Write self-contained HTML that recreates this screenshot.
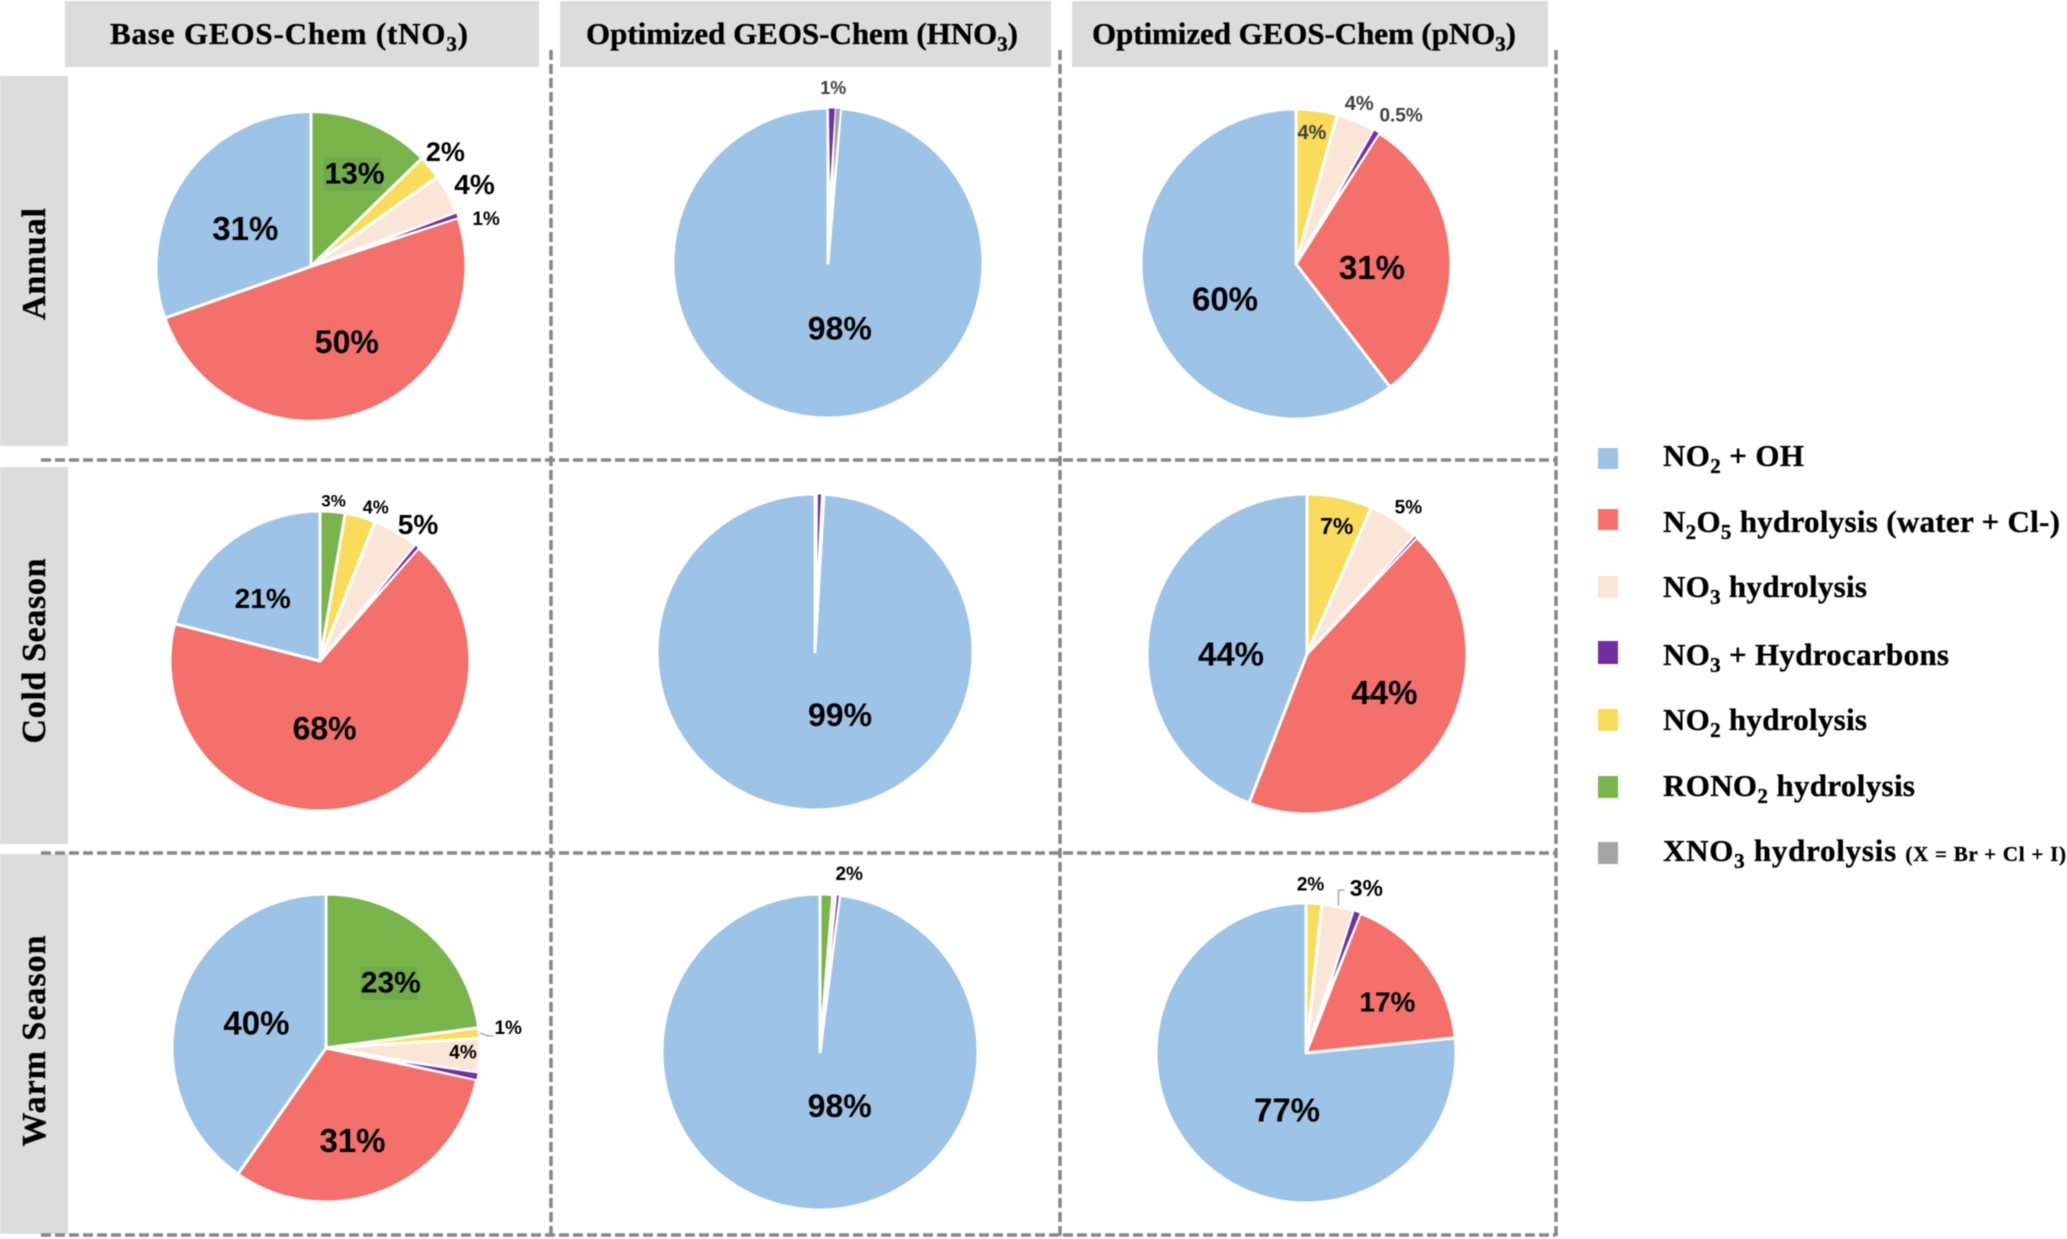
<!DOCTYPE html>
<html lang="en">
<head>
<meta charset="utf-8">
<title>Nitrate formation pathways pie charts</title>
<style>
html,body{margin:0;padding:0;background:#fff;}
#root{position:relative;width:2067px;height:1239px;overflow:hidden;filter:blur(0.55px);}
svg{display:block;}
.hdr{font-family:"Liberation Serif",serif;font-weight:bold;font-size:31px;fill:#000;stroke:#000;stroke-width:.35px;}
.leg{font-family:"Liberation Serif",serif;font-weight:bold;font-size:31px;fill:#000;stroke:#000;stroke-width:.35px;}
.pct{font-family:"Liberation Sans",sans-serif;font-weight:bold;}
</style>
</head>
<body>
<div id="root">
<svg id="chart" width="2067" height="1239" viewBox="0 0 2067 1239" xmlns="http://www.w3.org/2000/svg">
  <g>
    <rect x="65" y="1" width="474" height="66" fill="#dcdcdc"/>
    <rect x="560" y="1" width="491" height="66" fill="#dcdcdc"/>
    <rect x="1072" y="1" width="476" height="66" fill="#dcdcdc"/>
    <text class="hdr" x="110" y="44" textLength="358">Base GEOS-Chem (tNO<tspan dy="7" font-size="21">3</tspan><tspan dy="-7">)</tspan></text>
    <text class="hdr" x="586" y="44" textLength="432">Optimized GEOS-Chem (HNO<tspan dy="7" font-size="21">3</tspan><tspan dy="-7">)</tspan></text>
    <text class="hdr" x="1092" y="44" textLength="424">Optimized GEOS-Chem (pNO<tspan dy="7" font-size="21">3</tspan><tspan dy="-7">)</tspan></text>
  </g>
  <g>
    <rect x="0" y="76" width="68" height="370" fill="#dcdcdc"/>
    <rect x="0" y="467" width="68" height="377" fill="#dcdcdc"/>
    <rect x="0" y="854" width="68" height="380" fill="#dcdcdc"/>
    <text class="hdr" style="font-size:34px" text-anchor="middle" textLength="112" transform="translate(45 264) rotate(-90)">Annual</text>
    <text class="hdr" style="font-size:34px" text-anchor="middle" textLength="185" transform="translate(45 651) rotate(-90)">Cold Season</text>
    <text class="hdr" style="font-size:34px" text-anchor="middle" textLength="211" transform="translate(45 1041) rotate(-90)">Warm Season</text>
  </g>
  <g stroke="#888888" stroke-width="3.5" stroke-dasharray="10 4" fill="none">
    <line x1="551" y1="50" x2="551" y2="1236"/>
    <line x1="1060" y1="50" x2="1060" y2="1236"/>
    <line x1="1556" y1="50" x2="1556" y2="1236"/>
    <line x1="41" y1="460" x2="1556" y2="460"/>
    <line x1="41" y1="853" x2="1556" y2="853"/>
    <line x1="41" y1="1235" x2="1556" y2="1235"/>
  </g>
  <g id="pies"></g>
  <g>
    <g>
      <rect x="1598" y="448" width="20" height="21" fill="#9dc3e6"/>
      <text class="leg" x="1663" y="466" textLength="141">NO<tspan dy="7" font-size="21">2</tspan><tspan dy="-7"> + OH</tspan></text>
    </g>
    <g>
      <rect x="1598" y="509" width="20" height="21" fill="#f3706b"/>
      <text class="leg" x="1663" y="532" textLength="397">N<tspan dy="7" font-size="21">2</tspan><tspan dy="-7">O</tspan><tspan dy="7" font-size="21">5</tspan><tspan dy="-7"> hydrolysis (water + Cl-)</tspan></text>
    </g>
    <g>
      <rect x="1598" y="576" width="20" height="22" fill="#fbe5d6"/>
      <text class="leg" x="1663" y="597" textLength="204">NO<tspan dy="7" font-size="21">3</tspan><tspan dy="-7"> hydrolysis</tspan></text>
    </g>
    <g>
      <rect x="1598" y="641" width="20" height="23" fill="#7030a0"/>
      <text class="leg" x="1663" y="665" textLength="286">NO<tspan dy="7" font-size="21">3</tspan><tspan dy="-7"> + Hydrocarbons</tspan></text>
    </g>
    <g>
      <rect x="1598" y="709" width="20" height="22" fill="#f9dc5c"/>
      <text class="leg" x="1663" y="730" textLength="204">NO<tspan dy="7" font-size="21">2</tspan><tspan dy="-7"> hydrolysis</tspan></text>
    </g>
    <g>
      <rect x="1598" y="776" width="20" height="22" fill="#7ab54c"/>
      <text class="leg" x="1663" y="796" textLength="252">RONO<tspan dy="7" font-size="21">2</tspan><tspan dy="-7"> hydrolysis</tspan></text>
    </g>
    <g>
      <rect x="1598" y="842" width="20" height="22" fill="#a5a5a5"/>
      <text class="leg" x="1663" y="861" textLength="403">XNO<tspan dy="7" font-size="21">3</tspan><tspan dy="-7"> hydrolysis </tspan><tspan font-size="21">(X = Br + Cl + I)</tspan></text>
    </g>
  </g>
</svg>
</div>
<script>
// Slice order is clockwise from 12 o'clock.
const seriesNames = ['rono2-hydrolysis', 'no2-hydrolysis', 'no3-hydrolysis', 'no3-hydrocarbons', 'xno3-hydrolysis', 'n2o5-hydrolysis', 'no2-oh'];

const annualBaseValues = [12.7, 2.5, 4.2, 0.5, 0, 49.7, 30.4];
const annualBaseLabels = ['13%', '2%', '4%', '1%', '', '50%', '31%'];
const annualHno3Values = [0, 0, 0.05, 0.7, 0.55, 0, 98.7];
const annualHno3Labels = ['', '', '', '1%', '', '', '98%'];
const annualPno3Values = [0, 4.3, 4.1, 0.6, 0, 30.6, 60.4];
const annualPno3Labels = ['', '4%', '4%', '0.5%', '', '31%', '60%'];

const coldBaseValues = [2.7, 3.3, 5, 0.4, 0, 67.6, 21];
const coldBaseLabels = ['3%', '4%', '5%', '', '', '68%', '21%'];
const coldHno3Values = [0, 0, 0.25, 0.4, 0, 0.25, 99.1];
const coldHno3Labels = ['', '', '', '', '', '', '99%'];
const coldPno3Values = [0, 6.6, 5.2, 0.2, 0, 43.9, 44.1];
const coldPno3Labels = ['', '7%', '5%', '', '', '44%', '44%'];

const warmBaseValues = [22.9, 1.1, 3.6, 0.7, 0, 31.4, 40.3];
const warmBaseLabels = ['23%', '1%', '4%', '', '', '31%', '40%'];
const warmHno3Values = [1.3, 0, 0.4, 0.25, 0, 0.05, 98];
const warmHno3Labels = ['2%', '', '', '', '', '', '98%'];
const warmPno3Values = [0, 1.7, 3.5, 0.7, 0, 17.5, 76.6];
const warmPno3Labels = ['', '2%', '3%', '', '', '17%', '77%'];

const seriesColors = ['#7ab54c', '#f9dc5c', '#fbe5d6', '#7030a0', '#a5a5a5', '#f3706b', '#9dc3e6'];
const DARK = '#000000';
const GREY = '#404040';

// Layout only: geometry of each pie and, per slot, [radius factor, angle offset from slice middle, font size, colour, extra].
const panels = [
  {name: 'annual-base', values: annualBaseValues, printed: annualBaseLabels, cx: 311, cy: 266.5, r: 155,
   place: [[.66, 2.3, 30, DARK, 'shade'], [1.14, -.7, 27, DARK], [1.18, 1.1, 28, DARK], [1.17, 4.2, 19, DARK], null, [.54, -6.4, 32, DARK], [.49, -5.2, 33, DARK]]},
  {name: 'annual-hno3', values: annualHno3Values, printed: annualHno3Labels, cx: 828, cy: 263, r: 155,
   place: [null, null, null, [1.13, .3, 18, GREY], null, null, [.43, -12.5, 32, DARK]]},
  {name: 'annual-pno3', values: annualPno3Values, printed: annualPno3Labels, cx: 1296, cy: 264, r: 155,
   place: [null, [.85, -.8, 20, GREY], [1.11, -1.3, 20, GREY], [1.17, 4.1, 19, GREY], null, [.49, 5, 33, DARK], [.51, -7.4, 33, DARK]]},
  {name: 'cold-base', values: coldBaseValues, printed: coldBaseLabels, cx: 320, cy: 661, r: 150,
   place: [[1.07, 0, 17, DARK], [1.09, 4.3, 18, DARK], [1.12, 5.1, 28, DARK], null, null, [.45, 13.4, 32, DARK], [.565, -4.7, 28, DARK]]},
  {name: 'cold-hno3', values: coldHno3Values, printed: coldHno3Labels, cx: 815, cy: 652, r: 158,
   place: [null, null, null, null, null, null, [.43, -23.2, 32, DARK]]},
  {name: 'cold-pno3', values: coldPno3Values, printed: coldPno3Labels, cx: 1307, cy: 654, r: 160,
   place: [null, [.82, 1.2, 23, DARK], [1.11, 1.7, 19, DARK], null, null, [.54, -5.8, 33, DARK], [.475, -10.6, 33, DARK]]},
  {name: 'warm-base', values: warmBaseValues, printed: warmBaseLabels, cx: 326, cy: 1048, r: 154,
   place: [[.595, 3.8, 30, DARK, 'shade'], [1.19, -.6, 19, DARK, 'leader-side'], [.89, -.7, 19, DARK], null, null, [.625, 5.6, 33, DARK], [.48, 2.2, 33, DARK]]},
  {name: 'warm-hno3', values: warmHno3Values, printed: warmHno3Labels, cx: 820, cy: 1052, r: 158,
   place: [[1.14, 7, 19, DARK], null, null, null, null, null, [.364, -23.6, 32, DARK]]},
  {name: 'warm-pno3', values: warmPno3Values, printed: warmPno3Labels, cx: 1306, cy: 1053, r: 150,
   place: [null, [1.12, -1.5, 19, DARK], [1.17, 7.7, 23, DARK, 'leader-top'], null, null, [.64, 5.3, 28, DARK], [.40, -23.7, 33, DARK]]}
];

const NS = 'http://www.w3.org/2000/svg';
const piesGroup = document.getElementById('pies');
const SLIVER_LIMIT = 1;
const SLIVER_INNER = 0.45;

function make(tag, attrs) {
  const el = document.createElementNS(NS, tag);
  for (const k in attrs) el.setAttribute(k, attrs[k]);
  return el;
}
function angleOf(share, total) { return share / total * 360; }
function polar(p, deg, radius) {
  const a = deg * Math.PI / 180;
  return [p.cx + radius * Math.sin(a), p.cy - radius * Math.cos(a)];
}
function fmt(q) { return q[0].toFixed(2) + ' ' + q[1].toFixed(2); }
function slicePath(p, a0, a1) {
  const s = polar(p, a0, p.r), e = polar(p, a1, p.r);
  const large = a1 - a0 > 180 ? 1 : 0;
  return 'M' + p.cx + ' ' + p.cy + 'L' + fmt(s) + 'A' + p.r + ' ' + p.r + ' 0 ' + large + ' 1 ' + fmt(e) + 'Z';
}
// Very thin slices fade out before the pie centre, as the white borders close over them.
function sliverPath(p, a0, a1) {
  const mid = (a0 + a1) / 2;
  const s = polar(p, a0, p.r), e = polar(p, a1, p.r), tip = polar(p, mid, p.r * SLIVER_INNER);
  return 'M' + fmt(tip) + 'L' + fmt(s) + 'A' + p.r + ' ' + p.r + ' 0 0 1 ' + fmt(e) + 'Z';
}
function isSliver(i, v) { return (i === 3 || i === 4) && v > 0 && v < SLIVER_LIMIT; }

panels.forEach(function (p) {
  const total = p.values.reduce(function (a, b) { return a + b; }, 0);
  const group = make('g', {});
  
  
  piesGroup.appendChild(group);
  const overlay = [];
  const slivers = [];
  let cum = 0;
  p.values.forEach(function (v, i) {
    const a0 = angleOf(cum, total);
    cum += v;
    const a1 = angleOf(cum, total);
    const mid = (a0 + a1) / 2;
    if (isSliver(i, v)) {
      slivers.push({a0: a0, a1: a1, i: i});
    } else if (v > 0) {
      const slice = make('path', {d: slicePath(p, a0, a1), fill: seriesColors[i], stroke: '#ffffff', 'stroke-width': 3, 'stroke-linejoin': 'round'});
      
      
      group.appendChild(slice);
    }
    const spot = p.place[i];
    if (p.printed[i] && spot) overlay.push({text: p.printed[i], spot: spot, mid: mid, series: seriesNames[i]});
  });
  slivers.forEach(function (s) {
    const sliver = make('path', {d: sliverPath(p, s.a0, s.a1), fill: seriesColors[s.i], stroke: '#ffffff', 'stroke-width': 0.8});
    
    
    group.appendChild(sliver);
  });
  overlay.forEach(function (o) {
    const pos = polar(p, o.mid + o.spot[1], p.r * o.spot[0]);
    const tag = o.spot[4];
    if (tag === 'shade') {
      const shade = make('rect', {x: pos[0] - 31, y: pos[1] - 17, width: 58, height: 34, fill: '#70aa4a'});
      
      
      group.appendChild(shade);
    }
    if (tag === 'leader-side' || tag === 'leader-top') {
      const edge = polar(p, o.mid, p.r + 1);
      let pts;
      if (tag === 'leader-side') {
        pts = [edge, [edge[0] + 7, edge[1] + 3], [pos[0] - 15, edge[1] + 3]];
      } else {
        pts = [edge, [edge[0], pos[1] + 2], [pos[0] - 22, pos[1] + 2]];
      }
      const leader = make('polyline', {points: pts.map(function (q) { return q[0].toFixed(1) + ',' + q[1].toFixed(1); }).join(' '), fill: 'none', stroke: '#a6a6a6', 'stroke-width': 1.5});
      
      
      group.appendChild(leader);
    }
    const label = make('text', {x: pos[0].toFixed(1), y: pos[1].toFixed(1), 'text-anchor': 'middle', 'dominant-baseline': 'central', 'font-size': o.spot[2], fill: o.spot[3], 'class': 'pct'});
    
    
    label.textContent = o.text;
    group.appendChild(label);
  });
});
</script>
</body>
</html>
